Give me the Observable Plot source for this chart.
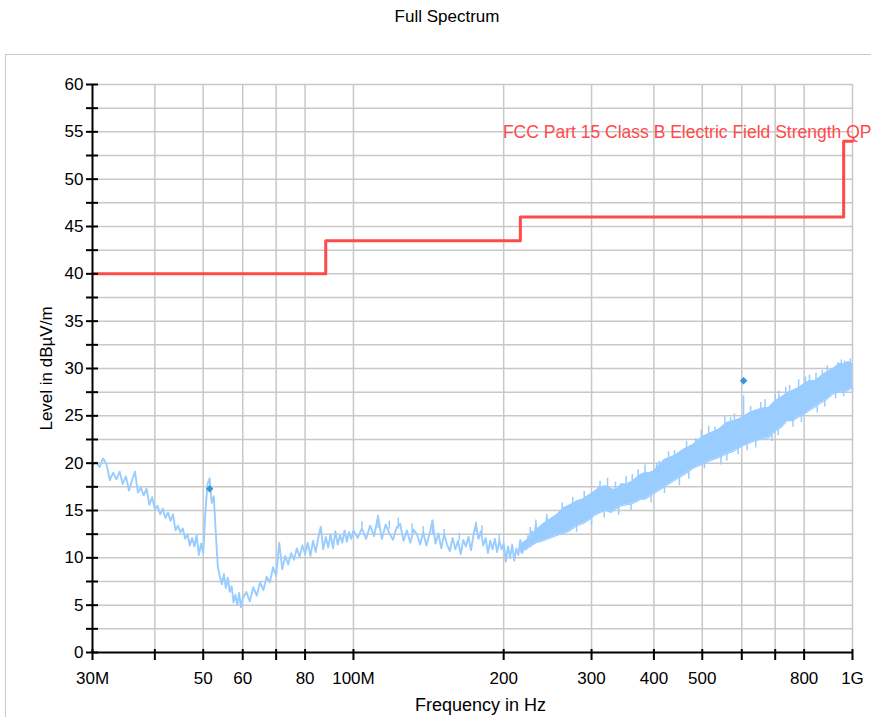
<!DOCTYPE html>
<html>
<head>
<meta charset="utf-8">
<script src="https://cdn.jsdelivr.net/npm/d3@7"></script>
<script src="https://cdn.jsdelivr.net/npm/@observablehq/plot@0.6"></script>
<style>
  html, body { margin: 0; padding: 0; background: #ffffff; }
  body { width: 871px; height: 717px; overflow: hidden; position: relative;
         font-family: "Liberation Sans", Arial, sans-serif; }
  #title { position: absolute; left: 447px; top: 7px; transform: translateX(-50%);
           font-size: 17px; line-height: 20px; color: #000; white-space: nowrap; }
  #frame { position: absolute; left: 5px; top: 54px; width: 900px; height: 700px;
           border-left: 1.5px solid #c8c8c8; border-top: 1.5px solid #c8c8c8; }
  #chart { position: absolute; left: 0; top: 54px; }
</style>
</head>
<body>
<div id="title">Full Spectrum</div>
<div id="frame"></div>
<div id="chart"></div>
<script>
// ---- Trace, 30–250 MHz (level in dBµV/m) ----
const lowFreqMHz = [30,30.5,31,31.5,32,32.5,33,33.5,34,34.5,35,35.5,36,36.5,37,37.5,38,38.5,39,39.5,
  40,40.5,41,41.5,42,42.5,43,43.5,44,44.5,45,45.5,46,46.5,47,47.5,48,48.5,49,49.5,
  50,50.5,51,51.5,52,52.5,53,53.5,54,54.5,55,55.5,56,56.5,57,57.5,58,58.5,59,59.5,60,
  61,62,63,64,65,66,67,68,69,70,71,72,73,74,75,76,77,78,79,80,
  81,82,83,84,85,86,87,88,89,90,91,92,93,94,95,96,97,98,99,100,
  102,104,106,108,110,112,114,116,118,120,122,124,126,128,130,132,134,136,138,140,
  142,144,146,148,150,152,154,156,158,160,162,164,166,168,170,172,174,176,178,180,
  182,184,186,188,190,192,194,196,198,200,202,204,206,208,210,212,214,216,218,220,
  222,224,226,228,230,232,234,236,238,240,242,244,246,248,250];
const lowLevel = [19.8,20.1,19.6,20.5,19.9,18.2,19.0,18.3,19.1,17.8,18.6,17.1,18.2,19.1,16.9,17.4,16.6,17.3,15.6,16.4,
  15.1,15.5,14.6,15.2,14.2,14.8,13.9,14.6,12.9,13.4,12.7,13.1,12.0,12.5,11.3,12.1,11.2,12.4,10.3,11.5,
  10.5,14.8,17.8,18.4,15.8,16.5,12.5,9.0,8.0,7.2,8.3,6.8,7.9,6.4,7.0,5.3,6.1,5.0,6.3,4.8,5.7,
  6.4,5.4,6.9,6.0,7.4,6.6,8.0,7.4,9.0,8.1,11.6,8.8,10.2,9.3,10.5,9.8,11.0,10.1,11.3,10.4,
  11.6,10.2,11.8,10.6,12.1,13.3,10.9,12.2,11.1,12.5,11.0,12.8,11.4,12.4,11.6,12.9,11.7,12.7,12.0,12.9,
  12.1,13.1,12.0,13.4,12.3,14.4,12.0,13.5,12.6,11.9,13.2,13.6,11.8,12.9,11.6,13.0,12.5,11.4,12.7,11.3,
  12.5,13.9,11.5,12.6,11.0,12.5,11.4,10.7,12.1,10.9,11.8,10.4,11.9,11.2,12.2,10.8,12.4,13.6,12.0,12.8,
  11.3,12.1,10.5,11.8,10.9,12.0,10.6,11.8,10.9,11.5,9.6,11.2,10.0,11.4,9.7,11.0,10.3,11.9,10.5,11.6,
  10.9,12.3,11.2,12.8,11.5,13.6,12.0,13.2,11.9,13.5,12.4,14.3,12.2,13.9,12.6];

// ---- Dense noise band, 216–1000 MHz: min / max level ----
const bandFreqMHz = [216,224,232,240,248,256,264,272,280,288,296,304,312,320,328,336,344,352,360,368,376,384,392,400,
  420,440,460,480,500,520,540,560,580,600,620,640,660,680,700,720,740,760,780,800,820,840,860,880,900,920,940,960,980,1000];
const bandLow = [10.6,11.1,11.6,11.8,12.1,12.4,12.6,12.9,13.4,13.6,14.0,14.5,14.8,15.0,14.8,15.2,15.5,15.6,15.7,15.9,16.2,16.2,16.5,16.8,
  17.5,18.2,18.8,19.5,19.9,20.3,20.6,21.0,21.3,21.8,22.1,22.4,22.6,22.7,23.4,23.8,24.5,24.5,24.9,25.2,25.6,25.9,26.3,26.6,27.0,27.4,27.5,27.5,27.7,28.0];
const bandHigh = [11.4,12.0,12.9,13.6,14.1,14.6,15.3,15.6,16.0,16.2,16.6,17.0,17.5,17.6,17.3,17.2,17.8,17.8,18.0,18.4,18.8,19.0,19.0,19.2,
  20.4,20.8,21.5,22.0,22.8,23.2,23.6,24.3,24.5,24.8,25.3,25.6,25.8,25.9,26.6,27.0,27.4,27.7,28.0,28.4,28.7,28.7,29.1,29.5,29.8,30.1,30.5,30.5,30.7,30.5];

// Narrow spikes (up and down) out of the noise
const spikeFreq = [104,112,118,123,131,138,144,152,163,176,181,196,
  226,232,244,262,275,290,312,323,335,352,362,372,384,405,410,428,440,465,485,498,515,530,555,570,580,605,
  625,655,668,700,712,735,748,780,805,820,845,870,890,935,950,965,990,
  280,300,318,340,360,395,420,450,470,505,545,560,590,615,640,690,710,760,790,850,880,925,960,1000];
const spikeFrom = [13.0,13.1,13.0,13.0,12.6,12.4,12.4,12.2,11.8,12.7,12.5,11.7,
  12.2,12.9,13.5,15.0,15.5,16.0,17.3,17.4,17.1,17.6,17.9,18.5,18.8,19.2,19.5,20.5,20.6,21.4,21.8,22.7,23.1,23.2,24.1,24.2,24.4,24.8,
  25.2,25.6,25.8,26.4,26.8,27.2,27.4,27.9,28.3,28.5,28.7,29.2,29.6,30.1,30.4,30.4,30.6,
  13.4,14.3,15.0,15.3,15.7,16.6,17.5,18.6,19.1,20.1,20.8,21.0,21.6,22.0,22.5,23.0,23.6,24.6,25.0,26.0,26.6,27.5,27.5,28.0];
const spikeTo = [13.8,14.5,13.9,14.2,13.6,13.3,14.0,13.0,12.6,13.8,13.4,12.5,
  13.2,14.0,14.6,15.8,16.4,17.0,18.1,18.4,18.0,18.6,18.8,19.3,19.8,20.0,20.2,21.2,21.3,22.3,22.6,23.5,23.9,23.8,24.9,24.8,25.2,27.1,
  26.0,26.4,26.7,27.2,27.6,28.0,28.2,28.8,29.1,29.3,29.5,29.8,30.3,30.6,30.9,30.8,31.0,
  12.7,13.4,14.2,14.5,15.0,15.8,16.8,17.6,18.3,19.4,19.8,20.2,20.9,21.3,21.6,22.3,22.9,23.8,24.3,25.3,25.9,26.8,27.0,27.5];

// Final measurement markers
const markerFreq = [51.5, 605];
const markerLevel = [17.3, 28.7];

// Limit line: FCC Part 15 Class B (step-after)
const limitFreq = [30, 88, 216, 960, 1000];
const limitLevel = [40, 43.5, 46, 54, 54];
const limitName = "FCC Part 15 Class B Electric Field Strength QP";

// Axes
const xTicks = [30,40,50,60,70,80,100,200,300,400,500,600,700,800,1000];
const xLabelFreq = [30,50,60,80,100,200,300,400,500,800,1000];
const xLabelText = ["30M","50","60","80","100M","200","300","400","500","800","1G"];
const xGrid = [40,50,60,70,80,100,200,300,400,500,600,700,800,1000];
const yTicks = [0,2.5,5,7.5,10,12.5,15,17.5,20,22.5,25,27.5,30,32.5,35,37.5,40,42.5,45,47.5,50,52.5,55,57.5,60];
const yGrid = [2.5,5,7.5,10,12.5,15,17.5,20,22.5,25,27.5,30,32.5,35,37.5,40,42.5,45,47.5,50,52.5,55,57.5,60];

// ---- derived tables ----
const lowTrace = lowFreqMHz.map((f, i) => ({f, v: lowLevel[i]}));
const band = bandFreqMHz.map((f, i) => ({f, lo: bandLow[i], hi: bandHigh[i]}));
const spikes = spikeFreq.map((f, i) => ({f, y1: spikeFrom[i], y2: spikeTo[i]}));
const markers = markerFreq.map((f, i) => ({f, v: markerLevel[i]}));
const limit = limitFreq.map((f, i) => ({f, v: limitLevel[i]}));
const xLabels = xLabelFreq.map((f, i) => ({f, label: xLabelText[i]}));

const blue = "#99ccff";
const red = "#ff4a4a";
const grid = "#c8c8c8";

const chart = Plot.plot({
  width: 871,
  height: 663,
  marginTop: 30,
  marginLeft: 92,
  marginRight: 19,
  marginBottom: 65,
  style: {fontFamily: '"Liberation Sans", Arial, sans-serif', fontSize: "17px", background: "transparent", overflow: "visible", color: "#000"},
  x: {type: "log", domain: [30, 1000]},
  y: {domain: [0, 60]},
  marks: [
    Plot.ruleY(yGrid, {stroke: grid, strokeWidth: 1.5}),
    Plot.ruleX(xGrid, {stroke: grid, strokeWidth: 1.5}),
    Plot.areaY(band, {x: "f", y1: "lo", y2: "hi", fill: blue}),
    Plot.line(band, {x: "f", y: "lo", stroke: blue, strokeWidth: 1.2}),
    Plot.line(band, {x: "f", y: "hi", stroke: blue, strokeWidth: 1.2}),
    Plot.line(lowTrace, {x: "f", y: "v", stroke: blue, strokeWidth: 1.9}),
    Plot.ruleX(spikes, {x: "f", y1: "y1", y2: "y2", stroke: blue, strokeWidth: 1.5}),
    Plot.line(limit, {x: "f", y: "v", curve: "step-after", stroke: red, strokeWidth: 3}),
    Plot.text([limitName], {x: () => 1000, y: () => 54, text: d => d, dx: 19, dy: -3, textAnchor: "end", lineAnchor: "bottom", fill: red, fontSize: 17.5}),
    Plot.dot(markers, {x: "f", y: "v", symbol: "square", rotate: 45, r: 3, fill: "#3a92d8", stroke: null}),
    Plot.ruleX([30], {stroke: "#000", strokeWidth: 2}),
    Plot.ruleY([0], {stroke: "#000", strokeWidth: 2}),
    Plot.axisY({ticks: yTicks, tickFormat: d => (d % 5 === 0 ? String(d) : ""), tickSize: 12, tickPadding: 3, dx: 6, strokeWidth: 2, label: null, fontSize: 17}),
    Plot.axisX({ticks: xTicks, tickFormat: () => "", tickSize: 11, dy: -3, strokeWidth: 2, label: null}),
    Plot.text(xLabels, {x: "f", text: "label", frameAnchor: "bottom", dy: 26, textAnchor: "middle", lineAnchor: "middle", fontSize: 17}),
    Plot.text(["Level in dBµV/m"], {frameAnchor: "left", dx: -46, rotate: -90, textAnchor: "middle", lineAnchor: "middle", fontSize: 17}),
    Plot.text(["Frequency in Hz"], {frameAnchor: "bottom", dx: 8, dy: 53, textAnchor: "middle", lineAnchor: "middle", fontSize: 18})
  ]
});
document.getElementById("chart").appendChild(chart);
</script>
</body>
</html>
